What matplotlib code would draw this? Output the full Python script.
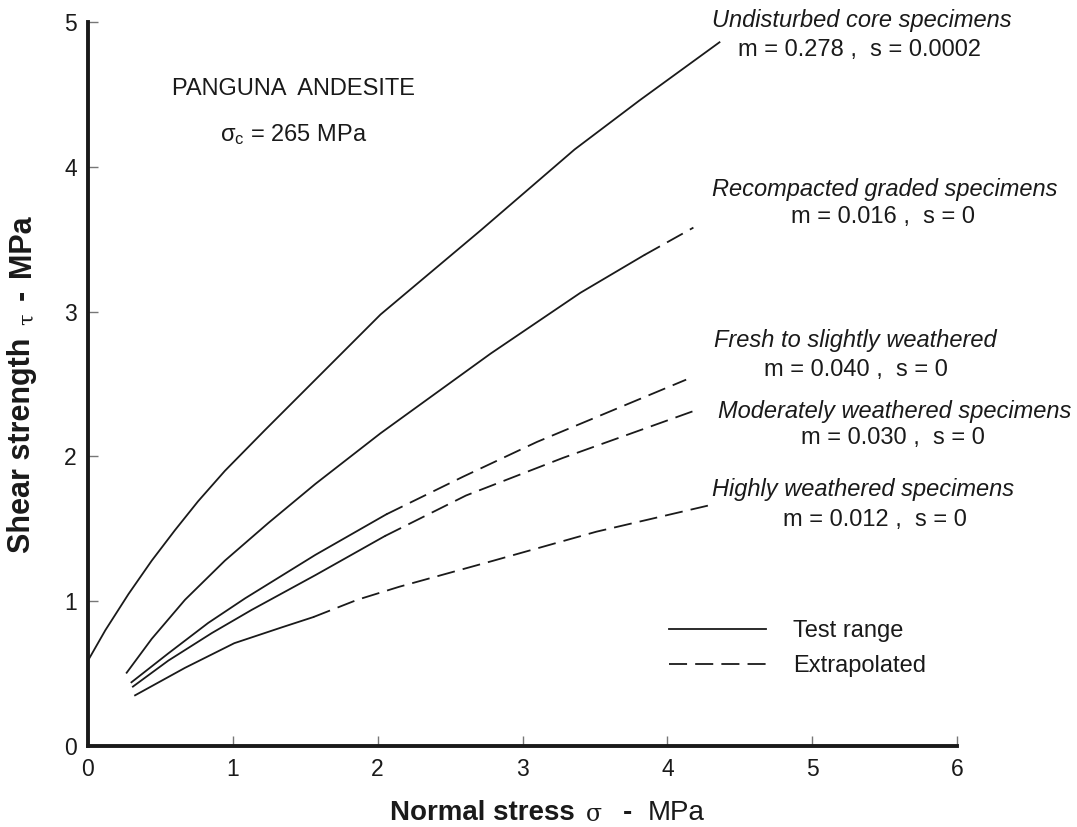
import numpy as np
import matplotlib.pyplot as plt
from matplotlib.lines import Line2D

# ---------- style ----------
plt.rcParams.update({
    "font.family": ["Liberation Sans", "DejaVu Sans"],
    "mathtext.fontset": "custom",
    "mathtext.rm": "Liberation Sans",
    "mathtext.it": "Liberation Sans:italic",
    "text.color": "#1a1a1a",
})
ink = "#1a1a1a"
dash = (10, 4.5)

# ---------- data (MPa) ----------
# Undisturbed core specimens (all test range)
und_x = [0.0, 0.12, 0.28, 0.44, 0.60, 0.76, 0.945, 1.22, 1.46, 2.02, 2.71, 3.36, 3.81, 4.36]
und_y = [0.59, 0.80, 1.05, 1.28, 1.49, 1.69, 1.90, 2.18, 2.42, 2.98, 3.56, 4.12, 4.46, 4.86]

# Recompacted graded specimens
rec_x = [0.267, 0.44, 0.67, 0.945, 1.245, 1.57, 2.02, 2.78, 3.40, 3.84]
rec_y = [0.506, 0.74, 1.01, 1.28, 1.54, 1.81, 2.16, 2.71, 3.13, 3.39]
rec_ext_x = [3.84, 4.18]
rec_ext_y = [3.39, 3.58]

# Fresh to slightly weathered
fre_x = [0.30, 0.555, 0.83, 1.085, 1.57, 2.06]
fre_y = [0.44, 0.64, 0.85, 1.02, 1.32, 1.60]
fre_ext_x = [2.06, 2.59, 3.10, 4.13]
fre_ext_y = [1.60, 1.86, 2.10, 2.53]

# Moderately weathered specimens
mod_x = [0.31, 0.555, 0.855, 1.13, 1.57, 2.05]
mod_y = [0.41, 0.59, 0.78, 0.94, 1.18, 1.45]
mod_ext_x = [2.05, 2.61, 3.28, 4.20]
mod_ext_y = [1.45, 1.73, 1.99, 2.32]

# Highly weathered specimens
hig_x = [0.325, 0.67, 1.01, 1.34, 1.555]
hig_y = [0.35, 0.54, 0.71, 0.82, 0.89]
hig_ext_x = [1.555, 1.86, 2.15, 2.80, 3.51, 4.28]
hig_ext_y = [0.89, 1.01, 1.10, 1.28, 1.48, 1.66]

# curve labels: (name, parameters, x/y of name, x/y of parameters)
labels = [
    ("Undisturbed core specimens", "m = 0.278 ,  s = 0.0002", 5.34, 5.01, 5.33, 4.81),
    ("Recompacted graded specimens", "m = 0.016 ,  s = 0", 5.50, 3.84, 5.49, 3.65),
    ("Fresh to slightly weathered", "m = 0.040 ,  s = 0", 5.30, 2.80, 5.30, 2.60),
    ("Moderately weathered specimens", "m = 0.030 ,  s = 0", 5.57, 2.31, 5.56, 2.13),
    ("Highly weathered specimens", "m = 0.012 ,  s = 0", 5.35, 1.77, 5.43, 1.56),
]

# ---------- figure ----------
fig = plt.figure(figsize=(10.77, 8.27), dpi=100)
ax = fig.add_axes([88/1077, 81/827, 869/1077, 724/827])

lw = 1.3
ax.plot(und_x, und_y, color=ink, lw=lw)
for sx, sy, ex, ey in [(rec_x, rec_y, rec_ext_x, rec_ext_y),
                       (fre_x, fre_y, fre_ext_x, fre_ext_y),
                       (mod_x, mod_y, mod_ext_x, mod_ext_y),
                       (hig_x, hig_y, hig_ext_x, hig_ext_y)]:
    ax.plot(sx, sy, color=ink, lw=lw)
    ax.plot(ex, ey, color=ink, lw=lw, dashes=dash)

for name, par, xn, yn, xp, yp in labels:
    ax.text(xn, yn, name, ha="center", va="center", fontsize=17,
            style="italic", clip_on=False)
    ax.text(xp, yp, par, ha="center", va="center", fontsize=17, clip_on=False)

ax.text(1.42, 4.54, "PANGUNA  ANDESITE", ha="center", va="center", fontsize=17)
ax.text(1.42, 4.22, r"σ$_{\rm c}$ = 265 MPa", ha="center", va="center", fontsize=17)

# legend
handles = [Line2D([], [], color=ink, lw=lw),
           Line2D([], [], color=ink, lw=lw, dashes=dash)]
ax.legend(handles, ["Test range", "Extrapolated"], loc="center left",
          bbox_to_anchor=(4.01, 0.673), bbox_transform=ax.transData,
          frameon=False, fontsize=17, handlelength=4.1, handletextpad=1.15,
          labelspacing=0.55, borderpad=0, borderaxespad=0)

# axes
ax.set_xlim(0, 6)
ax.set_ylim(0, 5)
ax.set_xticks(range(7))
ax.set_yticks(range(6))
for side in ["top", "right"]:
    ax.spines[side].set_visible(False)
for side in ["left", "bottom"]:
    ax.spines[side].set_linewidth(2.8)
    ax.spines[side].set_color(ink)
ax.tick_params(direction="in", length=7, width=1, color="#777777",
               labelsize=16.5, labelcolor=ink)
ax.tick_params(axis="x", pad=9)
ax.tick_params(axis="y", pad=8)

# x label: mixed weights
t1 = fig.text(390/1077, 1 - 826/827, "Normal stress", fontsize=20,
              fontweight="bold", ha="left", va="bottom")
t2 = ax.annotate("σ", xy=(1, 0), xycoords=t1, xytext=(8, 0),
                 textcoords="offset points", ha="left", va="bottom",
                 fontsize=17, family="DejaVu Serif")
t3 = ax.annotate("-", xy=(1, 0), xycoords=t2, xytext=(15, 0),
                 textcoords="offset points", ha="left", va="bottom",
                 fontsize=20, fontweight="bold")
ax.annotate("MPa", xy=(1, 0), xycoords=t3, xytext=(11, 0),
            textcoords="offset points", ha="left", va="bottom", fontsize=20)

# y label: mixed weights, rotated
u1 = fig.text(37/1077, 1 - 553/827, "Shear strength", fontsize=22,
              fontweight="bold", ha="right", va="bottom", rotation=90)
u2 = ax.annotate("τ", xy=(1, 1), xycoords=u1, xytext=(0, 9),
                 textcoords="offset points", ha="right", va="bottom",
                 rotation=90, fontsize=15, family="DejaVu Serif")
u3 = ax.annotate("-", xy=(1, 1), xycoords=u2, xytext=(0, 10),
                 textcoords="offset points", ha="right", va="bottom",
                 rotation=90, fontsize=22, fontweight="bold")
ax.annotate("MPa", xy=(1, 1), xycoords=u3, xytext=(0, 9),
            textcoords="offset points", ha="right", va="bottom",
            rotation=90, fontsize=22, fontweight="bold")

fig.savefig("out.png", dpi=100)
